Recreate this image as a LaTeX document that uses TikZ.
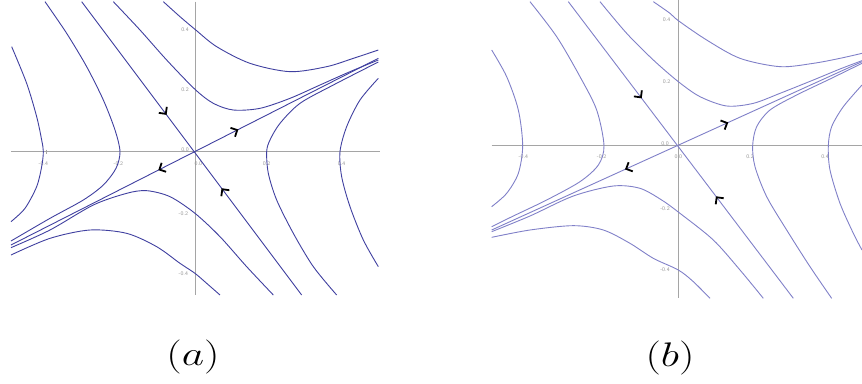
\documentclass[tikz,border=0pt]{standalone}
\usetikzlibrary{arrows.meta,decorations.markings}
\definecolor{curvea}{RGB}{64,64,160}
\definecolor{curveb}{RGB}{128,128,200}
\definecolor{axisgray}{RGB}{165,165,165}
\definecolor{labgray}{RGB}{150,150,150}
\tikzset{
  chevtip/.tip={Straight Barb[length=5pt,width=10pt,line width=1.8pt,color=black]},
  axisline/.style={draw=axisgray,line width=0.9pt},
  traja/.style={draw=curvea,line width=0.9pt},
  trajb/.style={draw=curveb,line width=0.9pt},
  ticklab/.style={font=\fontsize{5.5}{6}\sffamily,text=labgray,inner sep=0pt},
  caplab/.style={font=\Huge,inner sep=0pt,xscale=1.75,yscale=1.37},
  flowmarks/.style 2 args={postaction={decorate,decoration={markings,
      mark=at position #1 with {\arrow{chevtip}},
      mark=at position #2 with {\arrowreversed{chevtip}}}}}
}
\begin{document}
\begin{tikzpicture}[x=1pt,y=-1pt]
\useasboundingbox (0,0) rectangle (862,383);
% ---------------- panel (a) ----------------
\begin{scope}[scale=1/3]
  \draw[axisline] (33,455) -- (1140,455);
  \draw[axisline] (585,5) -- (585,885);
  \draw[axisline] (140,449) -- (140,461);
  \node[ticklab] (ax1) at (130,490) {-0.4};
  \node[ticklab] (ax2) at (355,490) {-0.2};
  \node[ticklab] (ax3) at (595,490) {0.0};
  \node[ticklab] (ax4) at (800,490) {0.2};
  \node[ticklab] (ax5) at (1025,490) {0.4};
  \node[ticklab] (ay1) at (555,88) {0.4};
  \node[ticklab] (ay2) at (555,268) {0.2};
  \node[ticklab] (ay3) at (555,450) {0.0};
  \node[ticklab] (ay4) at (550,640) {-0.2};
  \node[ticklab] (ay5) at (550,820) {-0.4};
  % trajectories
  \draw[traja] plot[smooth] coordinates {(35,140) (80,250) (110,350) (125,420) (130,455) (125,500) (110,560) (75,625) (33,665)};
  \draw[traja] plot[smooth] coordinates {(135,5) (200,100) (260,200) (310,300) (345,390) (360,455) (348,505) (310,555) (250,600) (150,655) (33,723)};
  \draw[traja] plot[smooth] coordinates {(490,5) (540,50) (585,88) (650,140) (750,190) (870,215) (980,200) (1060,175) (1135,150)};
  \draw[traja] plot[smooth] coordinates {(340,5) (420,90) (500,180) (585,268) (640,310) (700,330) (780,325) (870,295) (960,255) (1050,215) (1135,180)};
  \draw[traja] plot[smooth] coordinates {(1135,186) (1000,255) (900,310) (840,370) (810,420) (800,455) (805,520) (830,600) (880,700) (940,800) (1010,885)};
  \draw[traja] plot[smooth] coordinates {(1135,235) (1080,300) (1040,380) (1020,455) (1025,530) (1050,620) (1090,720) (1135,800)};
  \draw[traja] plot[smooth] coordinates {(33,743) (150,690) (280,615) (380,580) (440,572) (510,590) (585,640) (660,710) (740,800) (820,885)};
  \draw[traja] plot[smooth] coordinates {(33,765) (150,715) (270,690) (380,700) (470,740) (540,790) (585,820) (620,850) (660,885)};
  % manifolds
  \draw[traja,flowmarks={0.386}{0.636}] (245,5) -- (905,885);
  \draw[traja,flowmarks={0.619}{0.401}] (33,735) -- (1135,175);
\end{scope}
% ---------------- panel (b) ----------------
\begin{scope}[shift={(480,0)},scale=1/3]
  \draw[axisline] (35,437) -- (1146,437);
  \draw[axisline] (595,0) -- (595,895);
  \node[ticklab] (bx1) at (130,470) {-0.4};
  \node[ticklab] (bx2) at (365,470) {-0.2};
  \node[ticklab] (bx3) at (595,470) {0.0};
  \node[ticklab] (bx4) at (810,470) {0.2};
  \node[ticklab] (bx5) at (1035,470) {0.4};
  \node[ticklab] (by1) at (560,60) {0.4};
  \node[ticklab] (by2) at (560,245) {0.2};
  \node[ticklab] (by3) at (555,430) {0.0};
  \node[ticklab] (by4) at (555,625) {-0.2};
  \node[ticklab] (by5) at (555,810) {-0.4};
  % trajectories
  \draw[trajb] plot[smooth] coordinates {(35,150) (80,230) (115,330) (128,437) (115,520) (80,580) (35,620)};
  \draw[trajb] plot[smooth] coordinates {(150,5) (230,110) (300,230) (350,330) (372,437) (355,495) (300,545) (200,600) (100,648) (35,680)};
  \draw[trajb] plot[smooth] coordinates {(520,5) (570,40) (595,62) (680,120) (780,175) (900,200) (1000,190) (1080,175) (1146,160)};
  \draw[trajb] plot[smooth] coordinates {(360,5) (440,100) (520,180) (595,245) (660,290) (740,318) (820,310) (900,280) (1000,240) (1080,207) (1146,182)};
  \draw[trajb] plot[smooth] coordinates {(1146,190) (1050,237) (950,285) (870,330) (830,380) (818,437) (825,500) (860,590) (920,690) (990,800) (1055,895)};
  \draw[trajb] plot[smooth] coordinates {(1146,255) (1090,320) (1055,380) (1045,437) (1050,510) (1080,610) (1120,700) (1146,750)};
  \draw[trajb] plot[smooth] coordinates {(35,695) (150,648) (280,588) (400,558) (480,565) (545,600) (600,640) (700,720) (780,810) (850,895)};
  \draw[trajb] plot[smooth] coordinates {(35,712) (150,690) (280,677) (370,690) (450,730) (520,775) (595,810) (640,845) (690,895)};
  % manifolds
  \draw[trajb,flowmarks={0.326}{0.656}] (265,5) -- (940,895);
  \draw[trajb,flowmarks={0.639}{0.360}] (35,690) -- (1146,185);
\end{scope}
% captions
\node[caplab] (capa) at (193,357) {$(a)$};
\node[caplab] (capb) at (670,358) {$(b)$};
\end{tikzpicture}
\end{document}
